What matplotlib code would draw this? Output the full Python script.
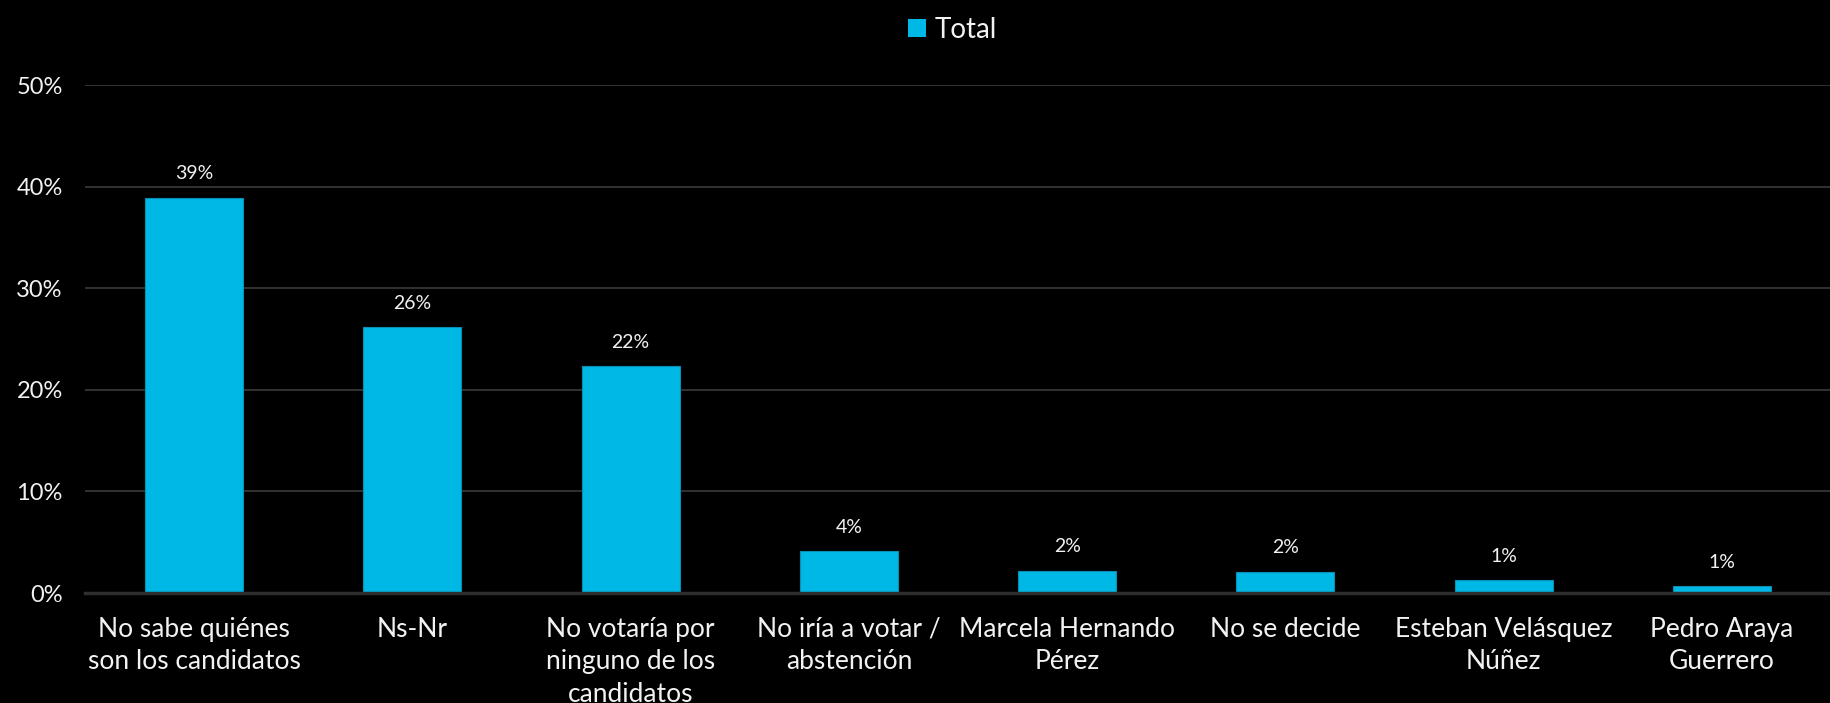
import matplotlib
matplotlib.use("Agg")
import matplotlib.pyplot as plt
from matplotlib.patches import Patch
from matplotlib.ticker import FuncFormatter

categories = [
    "No sabe quiénes\nson los candidatos",
    "Ns-Nr",
    "No votaría por\nninguno de los\ncandidatos",
    "No iría a votar /\nabstención",
    "Marcela Hernando\nPérez",
    "No se decide",
    "Esteban Velásquez\nNúñez",
    "Pedro Araya\nGuerrero",
]
values = [38.9, 26.2, 22.3, 4.1, 2.2, 2.1, 1.3, 0.7]
y_ticks = [0, 10, 20, 30, 40, 50]
series_name = "Total"

BAR_COLOR = "#00B8E6"
TEXT_COLOR = "#F2F2F2"
plt.rcParams["font.family"] = ["Lato", "DejaVu Sans"]

fig = plt.figure(figsize=(18.31, 7.03), dpi=100, facecolor="black")
ax = fig.add_axes([85 / 1831, 1 - 593 / 703, 1 - 85 / 1831, (593 - 85) / 703])
ax.set_facecolor("black")

x = range(len(categories))
bars = ax.bar(x, values, width=0.45, color=BAR_COLOR, edgecolor="#0a8fb3",
              linewidth=0.8, zorder=3)

for rect, v in zip(bars, values):
    ax.annotate(f"{round(v):d}%", (rect.get_x() + rect.get_width() / 2, v),
                xytext=(0, 11), textcoords="offset points", ha="center",
                va="bottom", color=TEXT_COLOR, fontsize=14)

ax.set_xlim(-0.5, len(categories) - 0.5)
ax.set_ylim(0, 50)
ax.set_yticks(y_ticks)
ax.yaxis.set_major_formatter(FuncFormatter(lambda v, _: f"{v:.0f}%"))
ax.set_xticks(list(x))
ax.set_xticklabels(categories, fontsize=19, color=TEXT_COLOR, linespacing=1.38)
ax.tick_params(axis="y", length=0, pad=16, labelsize=17, labelcolor=TEXT_COLOR)
ax.tick_params(axis="x", length=0, pad=17)

ax.grid(axis="y", color="#3a3a3a", linewidth=1.2, zorder=0)
for side in ("top", "right", "left"):
    ax.spines[side].set_visible(False)
ax.spines["bottom"].set_color("#2e2e2e")
ax.spines["bottom"].set_linewidth(2.5)
ax.spines["bottom"].set_zorder(4)

handle = Patch(facecolor=BAR_COLOR, edgecolor="none")
fig.legend([handle], [series_name], loc="upper center",
           bbox_to_anchor=(0.52, 1.0), frameon=False, fontsize=20,
           labelcolor=TEXT_COLOR, handlelength=0.65, handleheight=0.65,
           handletextpad=0.3, borderaxespad=0.2)

fig.savefig("out.png", dpi=100, facecolor="black")
